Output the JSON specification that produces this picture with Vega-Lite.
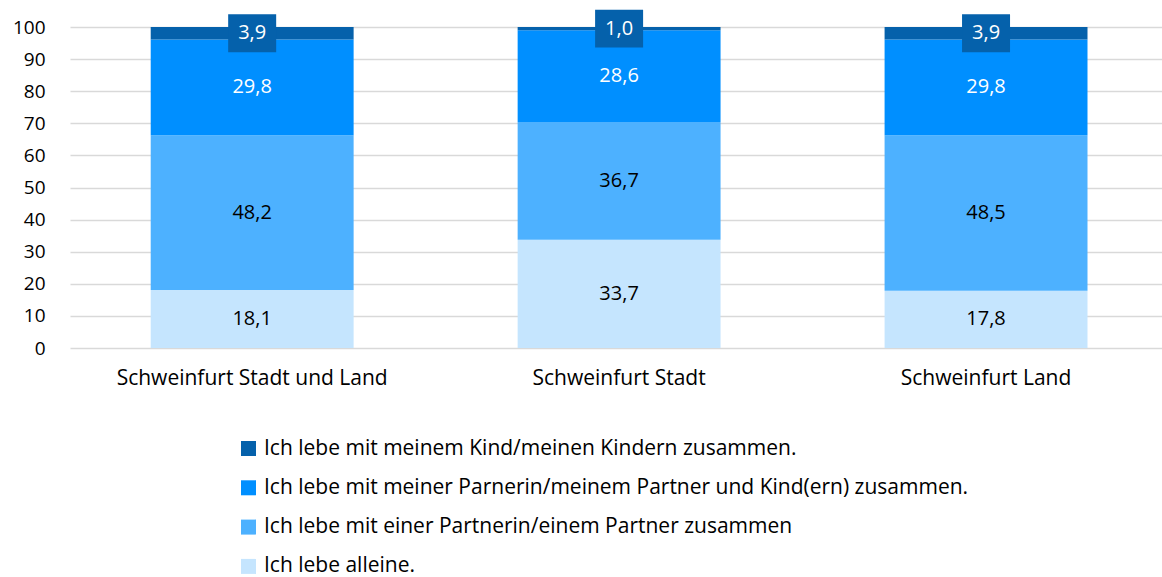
{
  "$schema": "https://vega.github.io/schema/vega-lite/v6.json",
  "autosize": {"type": "none"},
  "padding": {"left": 70, "top": 27, "right": 0, "bottom": 229},
  "width": 1092,
  "height": 321,
  "config": {
    "locale": {"number": {"decimal": ",", "thousands": ".", "grouping": [3], "currency": ["", " €"]}},
    "view": {"stroke": null},
    "font": "Open Sans",
    "background": "white",
    "axisY": {
      "title": null,
      "grid": true,
      "gridColor": "#d9d9d9",
      "gridWidth": 1.5,
      "ticks": false,
      "domain": false,
      "labelOverlap": false,
      "labelFontSize": 19,
      "labelColor": "#000000",
      "labelPadding": 25,
      "labelFont": "Open Sans"
    }
  },
  "data": {
    "values": [
      {"region": "Schweinfurt Stadt und Land", "cat": "Ich lebe alleine.", "ord": 1, "value": 18.1},
      {"region": "Schweinfurt Stadt und Land", "cat": "Ich lebe mit einer Partnerin/einem Partner zusammen", "ord": 2, "value": 48.2},
      {"region": "Schweinfurt Stadt und Land", "cat": "Ich lebe mit meiner Parnerin/meinem Partner und Kind(ern) zusammen.", "ord": 3, "value": 29.8},
      {"region": "Schweinfurt Stadt und Land", "cat": "Ich lebe mit meinem Kind/meinen Kindern zusammen.", "ord": 4, "value": 3.9},
      {"region": "Schweinfurt Stadt", "cat": "Ich lebe alleine.", "ord": 1, "value": 33.7},
      {"region": "Schweinfurt Stadt", "cat": "Ich lebe mit einer Partnerin/einem Partner zusammen", "ord": 2, "value": 36.7},
      {"region": "Schweinfurt Stadt", "cat": "Ich lebe mit meiner Parnerin/meinem Partner und Kind(ern) zusammen.", "ord": 3, "value": 28.6},
      {"region": "Schweinfurt Stadt", "cat": "Ich lebe mit meinem Kind/meinen Kindern zusammen.", "ord": 4, "value": 1.0},
      {"region": "Schweinfurt Land", "cat": "Ich lebe alleine.", "ord": 1, "value": 17.8},
      {"region": "Schweinfurt Land", "cat": "Ich lebe mit einer Partnerin/einem Partner zusammen", "ord": 2, "value": 48.5},
      {"region": "Schweinfurt Land", "cat": "Ich lebe mit meiner Parnerin/meinem Partner und Kind(ern) zusammen.", "ord": 3, "value": 29.8},
      {"region": "Schweinfurt Land", "cat": "Ich lebe mit meinem Kind/meinen Kindern zusammen.", "ord": 4, "value": 3.9}
    ]
  },
  "transform": [
    {"stack": "value", "groupby": ["region"], "sort": [{"field": "ord", "order": "ascending"}], "as": ["y0", "y1"]},
    {"calculate": "(datum.y0 + datum.y1) / 2", "as": "ymid"}
  ],
  "encoding": {
    "x": {
      "field": "region",
      "type": "nominal",
      "sort": ["Schweinfurt Stadt und Land", "Schweinfurt Stadt", "Schweinfurt Land"],
      "scale": {"paddingInner": 0.447, "paddingOuter": 0.2115, "align": 0.52},
      "axis": {
        "title": null,
        "labelAngle": 0,
        "ticks": false,
        "domain": false,
        "labelFontSize": 21,
        "labelColor": "#000000",
        "labelPadding": 19,
        "labelLimit": 600,
        "labelFont": "Open Sans"
      }
    }
  },
  "layer": [
    {
      "mark": {"type": "bar"},
      "encoding": {
        "y": {
          "field": "y0",
          "type": "quantitative",
          "scale": {"domain": [0, 100], "nice": false},
          "axis": {"values": [0, 10, 20, 30, 40, 50, 60, 70, 80, 90, 100]}
        },
        "y2": {"field": "y1"},
        "color": {
          "field": "cat",
          "type": "nominal",
          "scale": {
            "domain": [
              "Ich lebe mit meinem Kind/meinen Kindern zusammen.",
              "Ich lebe mit meiner Parnerin/meinem Partner und Kind(ern) zusammen.",
              "Ich lebe mit einer Partnerin/einem Partner zusammen",
              "Ich lebe alleine."
            ],
            "range": ["#0561AB", "#008FFF", "#4DB1FF", "#C5E5FE"]
          },
          "legend": {
            "title": null,
            "orient": "none",
            "legendX": 168,
            "legendY": 411,
            "direction": "vertical",
            "symbolType": "square",
            "symbolSize": 225,
            "symbolStrokeWidth": 0,
            "labelFontSize": 21,
            "labelFont": "Open Sans",
            "labelColor": "#000000",
            "labelOffset": 5,
            "rowPadding": 17.3,
            "labelLimit": 900
          }
        }
      }
    },
    {
      "transform": [{"filter": "datum.ord == 4"}],
      "mark": {
        "type": "point",
        "filled": true,
        "opacity": 1,
        "color": "#0561AB",
        "shape": "M-1,-0.79L1,-0.79L1,0.79L-1,0.79Z",
        "size": 2304
      },
      "encoding": {
        "y": {"field": "ymid", "type": "quantitative", "axis": {"values": [0, 10, 20, 30, 40, 50, 60, 70, 80, 90, 100]}}
      }
    },
    {
      "mark": {"type": "text", "fontSize": 20, "font": "Open Sans", "baseline": "middle", "align": "center"},
      "encoding": {
        "y": {"field": "ymid", "type": "quantitative", "axis": {"values": [0, 10, 20, 30, 40, 50, 60, 70, 80, 90, 100]}},
        "text": {"field": "value", "type": "quantitative", "format": ".1f"},
        "color": {
          "condition": {"test": "datum.ord >= 3", "value": "#ffffff"},
          "value": "#000000"
        }
      }
    }
  ]
}
